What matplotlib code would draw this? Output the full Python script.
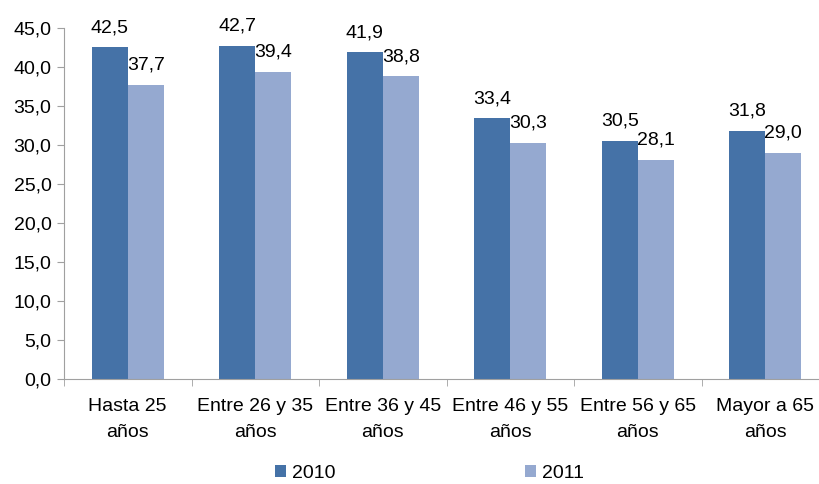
import numpy as np
import matplotlib.pyplot as plt

plt.rcParams['font.family'] = ['Liberation Sans', 'DejaVu Sans']

categories = ['Hasta 25\naños', 'Entre 26 y 35\naños', 'Entre 36 y 45\naños',
              'Entre 46 y 55\naños', 'Entre 56 y 65\naños', 'Mayor a 65\naños']
vals_2010 = [42.5, 42.7, 41.9, 33.4, 30.5, 31.8]
vals_2011 = [37.7, 39.4, 38.8, 30.3, 28.1, 29.0]
yticks = np.arange(0, 46, 5)

c2010 = '#4572A7'
c2011 = '#95A9D0'
gray = '#A0A0A0'
fs = 14

fig = plt.figure(figsize=(8.19, 4.84), dpi=100)
ax = fig.add_axes([64 / 819, 105 / 484, 765 / 819, 351 / 484])

x = np.arange(len(categories))
w = 0.283
b1 = ax.bar(x - w / 2, vals_2010, w, color=c2010, label='2010')
b2 = ax.bar(x + w / 2, vals_2011, w, color=c2011, label='2011')

for bars in (b1, b2):
    for r in bars:
        ax.annotate(f'{r.get_height():.1f}'.replace('.', ','),
                    (r.get_x() + r.get_width() / 2, r.get_height()),
                    xytext=(0, 8), textcoords='offset points',
                    ha='center', va='bottom', fontsize=fs)

ax.set_xlim(-0.5, len(categories) - 0.5)
ax.set_ylim(0, 45)
ax.set_yticks(yticks)
ax.set_yticklabels([f'{v:.1f}'.replace('.', ',') for v in yticks], fontsize=fs)

# category labels centred, tick marks at the boundaries
ax.set_xticks(x)
ax.set_xticklabels(categories, fontsize=fs, linespacing=1.65)
ax.tick_params(axis='x', length=0, pad=14)
ax.set_xticks(np.arange(len(categories) + 1) - 0.5, minor=True)
ax.tick_params(axis='x', which='minor', length=5, color=gray, direction='out')
ax.tick_params(axis='y', length=5, color=gray, direction='out', pad=4)

for s in ('top', 'right'):
    ax.spines[s].set_visible(False)
for s in ('left', 'bottom'):
    ax.spines[s].set_color(gray)

leg = fig.legend(handles=[b1, b2], loc='center', bbox_to_anchor=(0.5244, 0.021),
                 ncol=2, frameon=False, fontsize=fs, columnspacing=9.75,
                 handlelength=0.57, handleheight=0.57, handletextpad=0.31,
                 borderpad=0)

fig.savefig('out.png', dpi=100)
